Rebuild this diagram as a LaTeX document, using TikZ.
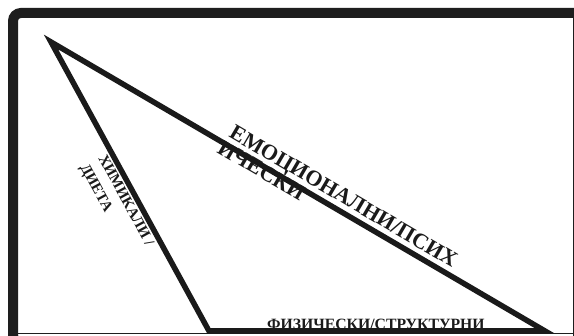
\documentclass[tikz,border=0pt]{standalone}
\usepackage{fontspec}
\setmainfont{Liberation Serif}
\definecolor{ink}{HTML}{1A1A1A}
\definecolor{frame}{HTML}{1E1E1E}
\begin{document}
\begin{tikzpicture}[x=1pt,y=-1pt, line join=miter,
  edge/.style={line width=5.5pt, draw=ink},
  lbl/.style={text=ink, inner sep=0pt, anchor=base west}]
\useasboundingbox (0,0) rectangle (574,336);
\clip (0,0) rectangle (574,336);
\fill[white] (0,0) rectangle (574,336);
\draw[line width=10pt, draw=frame, rounded corners=8pt] (13,13) rectangle (583,343);
\draw[line width=1pt, draw=frame] (573.5,18) -- (573.5,336);
\draw[line width=1pt, draw=frame] (18,333.5) -- (574,333.5);
\coordinate (A) at (51,42);
\coordinate (B) at (209,331);
\coordinate (C) at (545,331);
\draw[edge] (A) -- (B) -- (C) -- cycle;
\node[lbl, font=\fontsize{22}{22}\selectfont\bfseries, rotate=-30.4] (emo1) at (228,136.5) {ЕМОЦИОНАЛНИ/ПСИХ};
\node[lbl, font=\fontsize{22}{22}\selectfont\bfseries, rotate=-30.4] (emo2) at (216,152) {ИЧЕСКИ};
\node[lbl, font=\fontsize{15}{15}\selectfont\bfseries, rotate=-61.5] (chem1) at (98,158) {ХИМИКАЛИ /};
\node[lbl, font=\fontsize{15}{15}\selectfont\bfseries, rotate=-61.5] (chem2) at (80,167) {ДИЕТА};
\node[lbl, font=\fontsize{15.7}{15.7}\selectfont\bfseries] (phys) at (267,329.5) {ФИЗИЧЕСКИ/СТРУКТУРНИ};
\end{tikzpicture}
\end{document}
